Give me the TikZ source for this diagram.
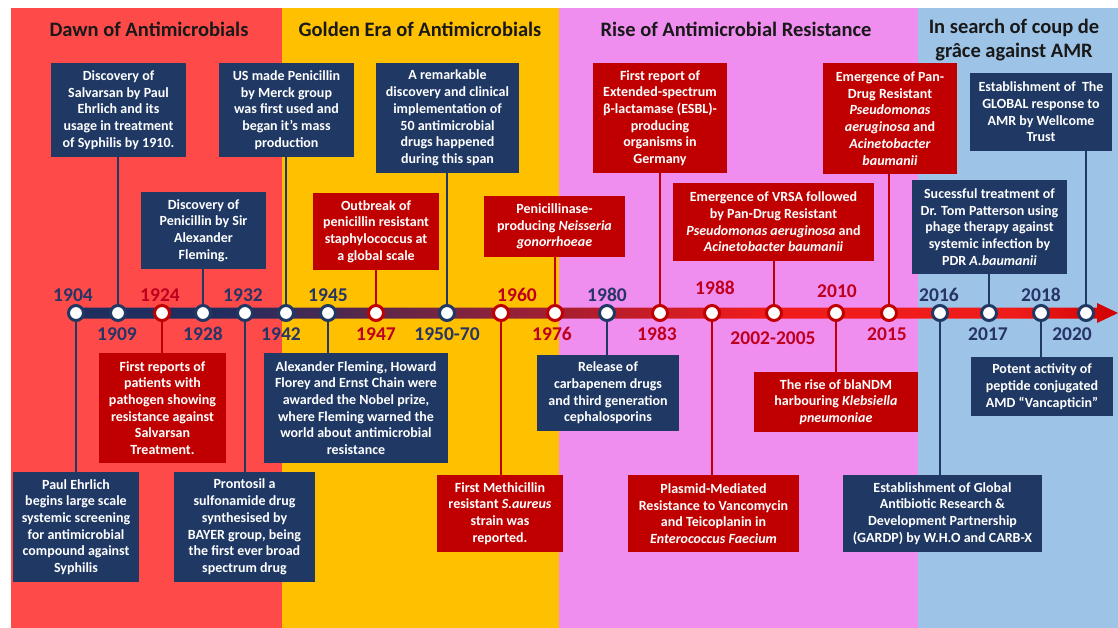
\documentclass[tikz,border=0pt]{standalone}
\usepackage{fontspec}
\setmainfont{Carlito}
\usepackage{tikz}
\usetikzlibrary{
  positioning,  % not much relative placement here, kept for "of"
  calc          % Calculations $...$
}
\definecolor{tlnavy}{RGB}{31,56,100}
\definecolor{tlred}{RGB}{192,0,0}
\definecolor{yrnavy}{RGB}{38,52,102}
\definecolor{yrred}{RGB}{190,0,30}
\definecolor{erared}{RGB}{255,74,74}
\definecolor{erayellow}{RGB}{255,192,0}
\definecolor{erapink}{RGB}{240,142,240}
\definecolor{erablue}{RGB}{157,195,230}
\definecolor{barA}{RGB}{31,45,95}
\definecolor{barB}{RGB}{122,36,64}
\definecolor{barC}{RGB}{180,28,44}
\definecolor{barD}{RGB}{240,28,28}
\definecolor{barE}{RGB}{208,0,0}
\pgfdeclarehorizontalshading{timebar}{100bp}{color(0bp)=(barA); color(32bp)=(barA);
  color(43bp)=(barB); color(50bp)=(barC); color(58bp)=(barD); color(70bp)=(barD);
  color(75bp)=(barE); color(100bp)=(barE)}
\def\mybary{313}
\def\myup{295}
\def\mydown{334}
\newcommand{\bug}[1]{\textit{#1}}
\tikzset{
  font=\bfseries,
  my box/.style={
    rectangle,
    inner sep=2pt,
    align=center,
    text=white,
    font=\fontsize{14}{16.7}\selectfont\bfseries
  },
  navy box/.style={my box, fill=tlnavy},
  red box/.style={my box, fill=tlred},
  my dot/.style={
    circle,
    fill=white,
    line width=3pt,
    minimum size=15pt,
    inner sep=0pt
  },
  navy dot/.style={my dot, draw=tlnavy},
  red dot/.style={my dot, draw=tlred},
  my year/.style={
    inner sep=0pt,
    font=\fontsize{19.5}{20}\selectfont\bfseries
  },
  navy year/.style={my year, text=yrnavy},
  red year/.style={my year, text=yrred},
  navy link/.style={draw=tlnavy, line width=2pt},
  red link/.style={draw=tlred, line width=2pt},
  era title/.style={
    align=center,
    text=black!90,
    font=\fontsize{20.5}{23.5}\selectfont\bfseries
  }
}

\begin{document}
\begin{tikzpicture}[x=1pt,y=-1pt]
\useasboundingbox (0,0) rectangle (1118,628);
\fill[white] (0,0) rectangle (1118,628);
% eras
\fill[erared]    (11,8)  rectangle (282,628);
\fill[erayellow] (282,8) rectangle (559,628);
\fill[erapink]   (559,8) rectangle (918,628);
\fill[erablue]   (918,8) rectangle (1118,628);
\node[era title] (dawn)   at (149,29)  {Dawn of Antimicrobials};
\node[era title] (golden) at (420,29)  {Golden Era of Antimicrobials};
\node[era title] (rise)   at (736,29)  {Rise of Antimicrobial Resistance};
\node[era title] (search) at (1014,40) {In search of coup de\\grâce against AMR};
% time bar
\shade[shading=timebar] (73,307.5) -- (1097,307.5) -- (1097,303) -- (1118,313)
  -- (1097,323) -- (1097,318.5) -- (73,318.5) -- cycle;
% events above the bar
\node[navy box,minimum width=135,minimum height=94]  (salvarsan)   at (118.5,110) {Discovery of\\Salvarsan by Paul\\Ehrlich and its\\usage in treatment\\of Syphilis by 1910.};
\node[navy box,minimum width=125,minimum height=77]  (fleming)     at (203.5,230.5) {Discovery of\\Penicillin by Sir\\Alexander\\Fleming.};
\node[navy box,minimum width=135,minimum height=94]  (merck)       at (286.5,110) {US made Penicillin\\by Merck group\\was first used and\\began it’s mass\\production};
\node[navy box,minimum width=143,minimum height=110] (fiftydrugs)  at (447.5,118) {A remarkable\\discovery and clinical\\implementation of\\50 antimicrobial\\drugs happened\\during this span};
\node[red box,minimum width=126,minimum height=77]   (outbreak)    at (376,231.5) {Outbreak of\\penicillin resistant\\staphylococcus at\\a global scale};
\node[red box,minimum width=141,minimum height=61]   (gonorrhoeae) at (554.5,226.5) {Penicillinase-\\producing \bug{Neisseria}\\\bug{gonorrhoeae}};
\node[red box,minimum width=134,minimum height=110]  (esbl)        at (660,118) {First report of\\Extended-spectrum\\β-lactamase (ESBL)-\\producing\\organisms in\\Germany};
\node[red box,minimum width=201,minimum height=78]   (vrsa)        at (773.5,222) {Emergence of VRSA followed\\by Pan-Drug Resistant\\\bug{Pseudomonas aeruginosa} and\\\bug{Acinetobacter baumanii}};
\node[red box,minimum width=134,minimum height=111]  (pandrug)     at (890,118.5) {Emergence of Pan-\\Drug Resistant\\\bug{Pseudomonas}\\\bug{aeruginosa} and\\\bug{Acinetobacter}\\\bug{baumanii}};
\node[navy box,minimum width=155,minimum height=94]  (phage)       at (989.5,227) {Sucessful treatment of\\Dr. Tom Patterson using\\phage therapy against\\systemic infection by\\PDR \bug{A.baumanii}};
\node[navy box,minimum width=142,minimum height=78]  (wellcome)    at (1041,112) {Establishment of~ The\\GLOBAL response to\\AMR by Wellcome\\Trust};
% events below the bar
\node[navy box,minimum width=126,minimum height=110] (screening)   at (76,527) {Paul Ehrlich\\begins large scale\\systemic screening\\for antimicrobial\\compound against\\Syphilis};
\node[red box,minimum width=127,minimum height=110]  (firstreport) at (162.5,408) {First reports of\\patients with\\pathogen showing\\resistance against\\Salvarsan\\Treatment.};
\node[navy box,minimum width=141,minimum height=110] (prontosil)   at (244.5,527) {Prontosil a\\sulfonamide drug\\synthesised by\\BAYER group, being\\the first ever broad\\spectrum drug};
\node[navy box,minimum width=184,minimum height=110] (nobel)       at (356,408) {Alexander Fleming, Howard\\Florey and Ernst Chain were\\awarded the Nobel prize,\\where Fleming warned the\\world about antimicrobial\\resistance};
\node[red box,minimum width=126,minimum height=77]   (mrsa)        at (500,513.5) {First Methicillin\\resistant \bug{S.aureus}\\strain was\\reported.};
\node[navy box,minimum width=142,minimum height=76]  (carbapenem)  at (608,393) {Release of\\carbapenem drugs\\and third generation\\cephalosporins};
\node[red box,minimum width=171,minimum height=77]   (plasmid)     at (713.5,513.5) {Plasmid-Mediated\\Resistance to Vancomycin\\and Teicoplanin in\\\bug{Enterococcus Faecium}};
\node[red box,minimum width=164,minimum height=60]   (ndm)         at (836,402) {The rise of blaNDM\\harbouring \bug{Klebsiella}\\\bug{pneumoniae}};
\node[navy box,minimum width=199,minimum height=77]  (gardp)       at (942.5,513.5) {Establishment of Global\\Antibiotic Research \&\\Development Partnership\\(GARDP) by W.H.O and CARB-X};
\node[navy box,minimum width=142,minimum height=59]  (vancapticin) at (1042,386.5) {Potent activity of\\peptide conjugated\\AMD “Vancapticin”};
% dots on the bar
\node[navy dot] (d1904) at (76,\mybary)   {};
\node[navy dot] (d1909) at (118,\mybary)  {};
\node[red dot]  (d1924) at (162,\mybary)  {};
\node[navy dot] (d1928) at (203,\mybary)  {};
\node[navy dot] (d1932) at (245,\mybary)  {};
\node[navy dot] (d1942) at (286,\mybary)  {};
\node[navy dot] (d1945) at (328,\mybary)  {};
\node[red dot]  (d1947) at (376,\mybary)  {};
\node[navy dot] (d1950) at (447,\mybary)  {};
\node[red dot]  (d1960) at (501,\mybary)  {};
\node[red dot]  (d1976) at (555,\mybary)  {};
\node[navy dot] (d1980) at (607,\mybary)  {};
\node[red dot]  (d1983) at (660,\mybary)  {};
\node[red dot]  (d1988) at (712,\mybary)  {};
\node[red dot]  (d2002) at (774,\mybary)  {};
\node[red dot]  (d2010) at (836,\mybary)  {};
\node[red dot]  (d2015) at (889,\mybary)  {};
\node[navy dot] (d2016) at (940,\mybary)  {};
\node[navy dot] (d2017) at (989,\mybary)  {};
\node[navy dot] (d2018) at (1041,\mybary) {};
\node[navy dot] (d2020) at (1086,\mybary) {};
% years
\node[navy year] (y1904) at (73,\myup)     {1904};
\node[navy year] (y1909) at (117,\mydown)  {1909};
\node[red year]  (y1924) at (160,\myup)    {1924};
\node[navy year] (y1928) at (203,\mydown)  {1928};
\node[navy year] (y1932) at (243,\myup)    {1932};
\node[navy year] (y1942) at (281,\mydown)  {1942};
\node[navy year] (y1945) at (328,\myup)    {1945};
\node[red year]  (y1947) at (376,\mydown)  {1947};
\node[navy year] (y1950) at (447,\mydown)  {1950-70};
\node[red year]  (y1960) at (517,\myup)    {1960};
\node[red year]  (y1976) at (552,\mydown)  {1976};
\node[navy year] (y1980) at (607,\myup)    {1980};
\node[red year]  (y1983) at (657,\mydown)  {1983};
\node[red year]  (y1988) at (715,288)      {1988};
\node[red year]  (y2002) at (773,338)      {2002-2005};
\node[red year]  (y2010) at (837,291)      {2010};
\node[red year]  (y2015) at (887,\mydown)  {2015};
\node[navy year] (y2016) at (939,\myup)    {2016};
\node[navy year] (y2017) at (988,\mydown)  {2017};
\node[navy year] (y2018) at (1041,\myup)   {2018};
\node[navy year] (y2020) at (1072,\mydown) {2020};
% links
\draw[navy link] (d1909 |- salvarsan.south)   -- (d1909.north);
\draw[navy link] (d1928 |- fleming.south)     -- (d1928.north);
\draw[navy link] (d1942 |- merck.south)       -- (d1942.north);
\draw[navy link] (d1950 |- fiftydrugs.south)  -- (d1950.north);
\draw[red link]  (d1947 |- outbreak.south)    -- (d1947.north);
\draw[red link]  (d1976 |- gonorrhoeae.south) -- (d1976.north);
\draw[red link]  (d1983 |- esbl.south)        -- (d1983.north);
\draw[red link]  (d2002 |- vrsa.south)        -- (d2002.north);
\draw[red link]  (d2015 |- pandrug.south)     -- (d2015.north);
\draw[navy link] (d2017 |- phage.south)       -- (d2017.north);
\draw[navy link] (d2020 |- wellcome.south)    -- (d2020.north);
\draw[navy link] (d1904.south) -- (d1904 |- screening.north);
\draw[red link]  (d1924.south) -- (d1924 |- firstreport.north);
\draw[navy link] (d1932.south) -- (d1932 |- prontosil.north);
\draw[navy link] (d1945.south) -- (d1945 |- nobel.north);
\draw[red link]  (d1960.south) -- (d1960 |- mrsa.north);
\draw[navy link] (d1980.south) -- (d1980 |- carbapenem.north);
\draw[red link]  (d1988.south) -- (d1988 |- plasmid.north);
\draw[red link]  (d2010.south) -- (d2010 |- ndm.north);
\draw[navy link] (d2016.south) -- (d2016 |- gardp.north);
\draw[navy link] (d2018.south) -- (d2018 |- vancapticin.north);
\end{tikzpicture}
\end{document}
